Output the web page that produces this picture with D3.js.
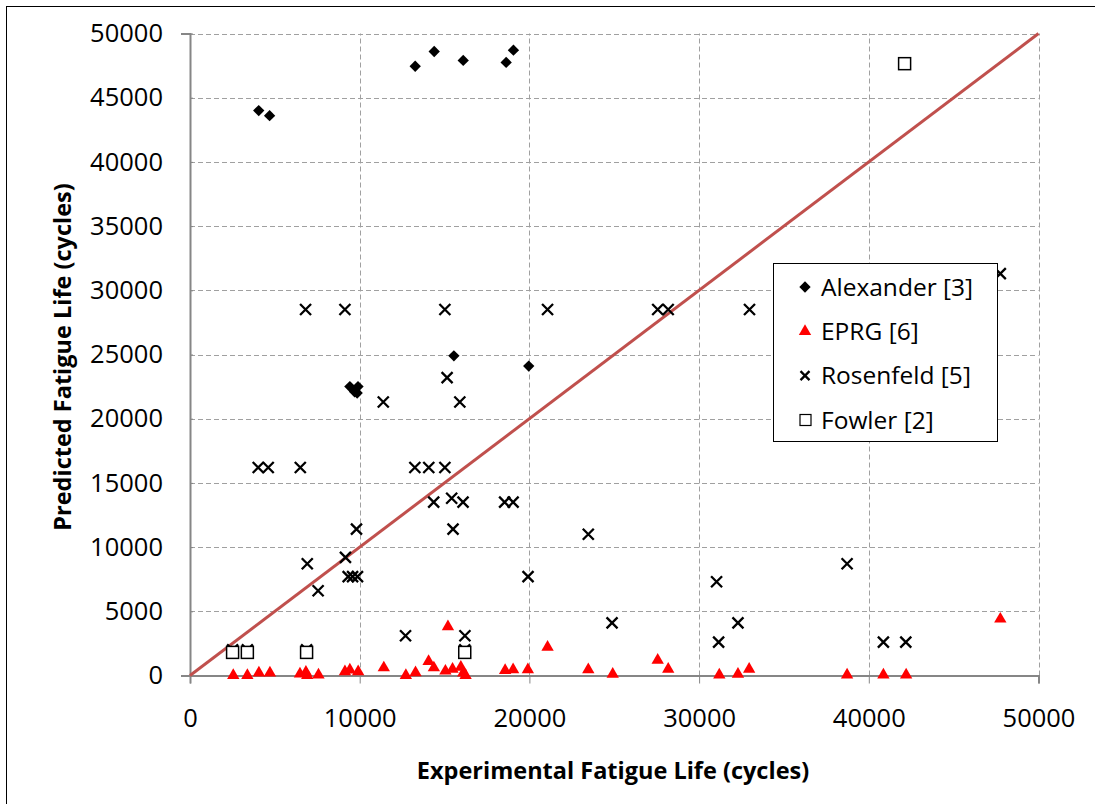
<!DOCTYPE html>
<html>
<head>
<meta charset="utf-8">
<script src="https://cdn.jsdelivr.net/npm/d3@7"></script>
<style>
  body { margin: 0; background: #fff; }
  text { font-family: "Open Sans", sans-serif; }
</style>
</head>
<body>
<div id="chart"></div>
<script>
// experimental vs predicted life, [x, y] in cycles
const alexander = [[4050,44000],[4690,43600],[13270,47450],[14390,48600],[16100,47900],[18630,47750],[19060,48700],
    [9420,22500],[9700,22100],[9900,22500],[9850,22000],[15550,24900],[19960,24100]];

const eprg = [[2550,0],[3380,0],[4060,200],[4710,200],[6480,130],[6830,260],[6910,0],[7570,50],[9130,300],[9420,430],
    [9910,300],[11420,600],[12720,0],[13290,220],[14060,1100],[14370,600],[15050,350],[15200,3800],[15470,500],[15960,650],
    [16100,200],[16240,0],[18570,400],[19040,450],[19910,450],[21070,2200],[23470,450],[24910,100],[27560,1200],[28180,500],
    [31190,50],[32290,100],[32950,500],[38720,50],[40860,50],[42200,50],[47750,4400]];

const rosenfeld = [[6810,28500],[9130,28500],[15020,28500],[21070,28500],[27560,28500],[28180,28500],[32970,28500],[47750,31300],
    [15150,23200],[11390,21300],[15900,21300],
    [4020,16200],[4610,16200],[6500,16200],[13250,16200],[14070,16200],[15020,16200],
    [14360,13500],[15420,13800],[16090,13500],[18540,13500],[19040,13500],
    [9810,11400],[15500,11400],[23470,11000],
    [9160,9200],[6910,8700],[38720,8700],[7550,6600],
    [9320,7700],[9580,7700],[9870,7700],[19920,7700],[31030,7300],
    [24870,4100],[32290,4100],[12700,3100],[16200,3100],
    [31150,2600],[40860,2600],[42180,2600],
    [2510,2000],[3380,2000],[6870,2000],[16190,2000]];

const fowler = [[2510,1800],[3380,1800],[6870,1800],[16190,1800],[42110,47650]];

const legendLabels = ["Alexander [3]", "EPRG [6]", "Rosenfeld [5]", "Fowler [2]"];
const xTicks = [0, 10000, 20000, 30000, 40000, 50000];
const yTicks = [0, 5000, 10000, 15000, 20000, 25000, 30000, 35000, 40000, 45000, 50000];

const svg = d3.select("#chart")
    .append("svg")
    .attr("width", 1095)
    .attr("height", 804);

// outer frame
svg.append("rect")
    .attr("x", 6.5).attr("y", 6.5)
    .attr("width", 1100).attr("height", 810)
    .attr("fill", "#fff").attr("stroke", "#000").attr("stroke-width", 1);

const x = d3.scaleLinear().domain([0, 50000]).range([190, 1038.5]);
const y = d3.scaleLinear().domain([0, 50000]).range([675.5, 33.5]);

const grid = svg.append("g")
    .attr("stroke", "#a0a0a0")
    .attr("stroke-dasharray", "5,3")
    .attr("stroke-width", 1);

grid.selectAll(".gy")
    .data(yTicks.filter(d => d > 0))
    .join("line")
    .attr("x1", x(0)).attr("x2", x(50000))
    .attr("y1", d => Math.round(y(d)) + 0.5).attr("y2", d => Math.round(y(d)) + 0.5);

grid.selectAll(".gx")
    .data(xTicks.filter(d => d > 0))
    .join("line")
    .attr("y1", y(0)).attr("y2", y(50000))
    .attr("x1", d => Math.round(x(d)) + 0.5).attr("x2", d => Math.round(x(d)) + 0.5);

// y axis
const yAxis = svg.append("g")
    .attr("transform", `translate(${x(0)},0)`)
    .call(d3.axisLeft(y).tickValues(yTicks).tickSize(9).tickPadding(18).tickFormat(d3.format("d")));
yAxis.select(".domain").attr("stroke", "#868686").attr("stroke-width", 2);
yAxis.selectAll(".tick line").attr("stroke", "#868686").attr("x2", 3);
yAxis.selectAll("text").style("font-size", "25.5px").attr("fill", "#000");

// x axis
const xAxis = svg.append("g")
    .attr("transform", `translate(0,${y(0)})`)
    .call(d3.axisBottom(x).tickValues(xTicks).tickSize(8).tickPadding(25).tickFormat(d3.format("d")));
xAxis.select(".domain").attr("stroke", "#868686").attr("stroke-width", 2);
xAxis.selectAll(".tick line").attr("stroke", "#868686");
xAxis.selectAll("text").style("font-size", "25.5px").attr("fill", "#000");

// 1:1 line
svg.append("line")
    .attr("x1", x(0)).attr("y1", y(0))
    .attr("x2", x(50000)).attr("y2", y(50000))
    .attr("stroke", "#c0504d").attr("stroke-width", 3);

const diamond = d3.symbol().type(d3.symbolSquare).size(64);
const tri = d3.symbol().type(d3.symbolTriangle).size(66);

const drawCross = (g, s) => g.attr("d", `M${-s},${-s}L${s},${s}M${-s},${s}L${s},${-s}`)
    .attr("stroke", "#000").attr("stroke-width", 2.3).attr("fill", "none");

svg.append("g").selectAll("path")
    .data(alexander)
    .join("path")
    .attr("d", diamond)
    .attr("transform", d => `translate(${x(d[0])},${y(d[1])}) rotate(45)`)
    .attr("fill", "#000");

svg.append("g").selectAll("path")
    .data(rosenfeld)
    .join("path")
    .attr("transform", d => `translate(${x(d[0])},${y(d[1])})`)
    .call(drawCross, 5.5);

svg.append("g").selectAll("rect")
    .data(fowler)
    .join("rect")
    .attr("x", d => x(d[0]) - 6).attr("y", d => y(d[1]) - 6)
    .attr("width", 12).attr("height", 12)
    .attr("fill", "#fff").attr("stroke", "#000").attr("stroke-width", 1.5);

svg.append("g").selectAll("path")
    .data(eprg)
    .join("path")
    .attr("d", tri)
    .attr("transform", d => `translate(${x(d[0])},${y(d[1])})`)
    .attr("fill", "#ff0000");

// axis titles
svg.append("text")
    .attr("x", 613).attr("y", 779)
    .attr("text-anchor", "middle")
    .style("font-size", "23.5px").style("font-weight", "bold")
    .text("Experimental Fatigue Life (cycles)");

svg.append("text")
    .attr("transform", "translate(71,357) rotate(-90)")
    .attr("text-anchor", "middle")
    .style("font-size", "23.5px").style("font-weight", "bold")
    .text("Predicted Fatigue Life (cycles)");

// legend
const legend = svg.append("g");
legend.append("rect")
    .attr("x", 773.5).attr("y", 263.5)
    .attr("width", 224).attr("height", 178)
    .attr("fill", "#fff").attr("stroke", "#000").attr("stroke-width", 1);

const ly = d3.scalePoint().domain(legendLabels).range([287, 420]);

legend.selectAll("text")
    .data(legendLabels)
    .join("text")
    .attr("x", 821).attr("y", d => ly(d))
    .attr("dy", "0.35em")
    .style("font-size", "24.5px")
    .text(d => d);

legend.append("path").attr("d", diamond).attr("fill", "#000")
    .attr("transform", `translate(805,${ly(legendLabels[0])}) rotate(45)`);
legend.append("path").attr("d", tri).attr("fill", "#ff0000")
    .attr("transform", `translate(805,${ly(legendLabels[1])})`);
legend.append("path").attr("transform", `translate(805,${ly(legendLabels[2])})`).call(drawCross, 4.5);
legend.append("rect").attr("x", 800).attr("y", ly(legendLabels[3]) - 5.5)
    .attr("width", 11).attr("height", 11)
    .attr("fill", "#fff").attr("stroke", "#000").attr("stroke-width", 1.2);
</script>
</body>
</html>
